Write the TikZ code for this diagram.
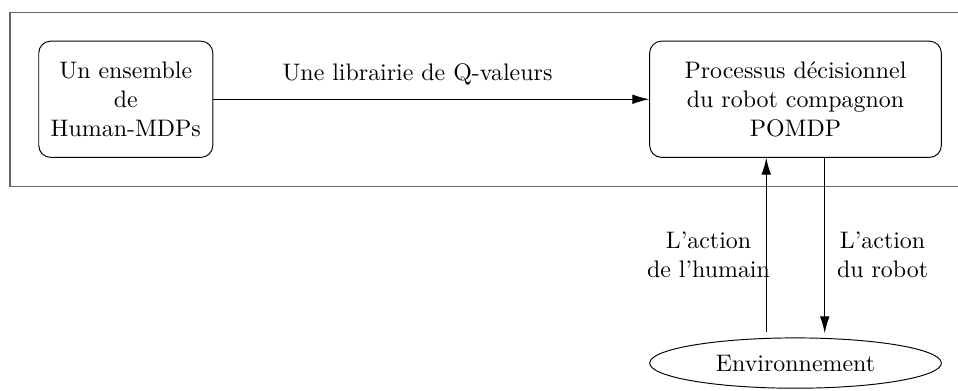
\documentclass[tikz,border=0pt]{standalone}
\usepackage{amsmath}
\usepackage{xcolor}
\usepackage{tikz}
\usetikzlibrary{calc}
\usetikzlibrary{shapes.geometric}
\usetikzlibrary{arrows.meta}

\tikzset{
  procbox/.style={draw, thin, black, rounded corners=5pt, align=center, inner sep=0pt},
  envbox/.style={draw, thin, black, ellipse, inner sep=0pt, minimum width=4.29cm, minimum height=0.74cm},
  flow/.style={thin, black, -{Latex[length=7pt, width=4pt]}}
}

\begin{document}
\begin{tikzpicture}
      \useasboundingbox (0, 0) rectangle (14.09, 5.75);

      \coordinate (SW) at (0.15, 3.01);
      \coordinate (NE) at (14.5, 5.57);

      \draw[line width=0.6pt, black!60] (SW) rectangle (NE);

      \node[procbox, minimum width=2.56cm, minimum height=1.71cm] (mdps) at (1.85, 4.29)
        {Un ensemble\\de\\Human-MDPs};
      \node[procbox, minimum width=4.29cm, minimum height=1.71cm] (pomdp) at (11.70, 4.29)
        {Processus décisionnel\\du robot compagnon\\POMDP};
      \node[envbox] (env) at (11.70, 0.41) {Environnement};

      \coordinate (H) at (11.27, 0.87);
      \coordinate (R) at (12.13, 0.85);

      \draw[flow] (mdps) -- (pomdp);
      \draw[flow] (H) -- (H |- pomdp.south);
      \draw[flow] (R |- pomdp.south) -- (R);

      \node (qlib) at (6.14, 4.65) {Une librairie de Q-valeurs};
      \node[align=center] (acth) at (10.42, 2.00) {L'action\\de l'humain};
      \node[align=center] (actr) at (12.98, 2.00) {L'action\\du robot};
    \end{tikzpicture}
\end{document}
